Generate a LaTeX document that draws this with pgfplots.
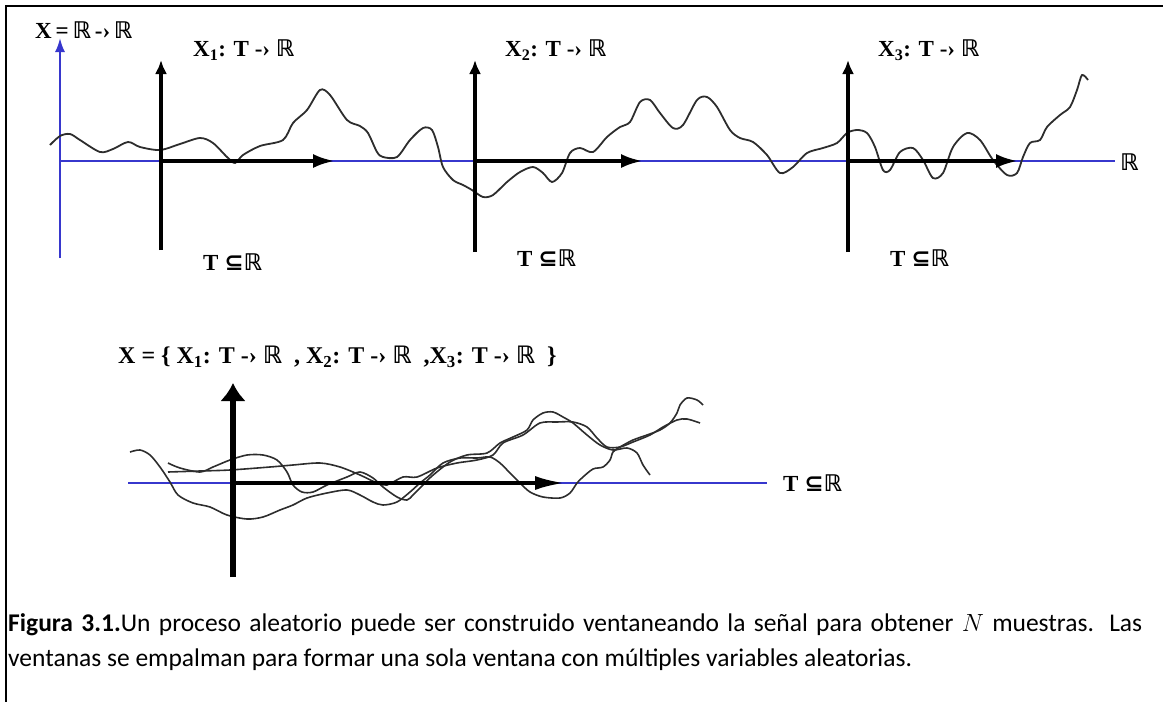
\documentclass[border=0pt]{standalone}
\usepackage{fontspec}
\setmainfont{Carlito}
\newfontfamily\tnr{Liberation Serif}
\newfontfamily\dvs{DejaVu Sans}
\usepackage{pgfplots}
\pgfplotsset{compat=1.18}
\usetikzlibrary{arrows.meta}

\definecolor{axblue}{RGB}{55,55,205}
\definecolor{wave}{RGB}{45,45,45}
\newcommand{\R}{{\dvs\bfseries ℝ}}
\newcommand{\sub}{{\dvs\bfseries ⊆}}
\newcommand{\lab}{\tnr\bfseries\fontsize{23}{23}\selectfont}

\begin{document}
\begin{tikzpicture}
\begin{axis}[
    width=1163pt, height=702pt, scale only axis,
    xmin=0, xmax=1163, ymin=0, ymax=702, y dir=reverse,
    hide axis, clip=false,
  ]
  % frame
  \addplot[black, line width=2pt] coordinates {(6,702) (6,6) (1163,6)};

  % blue reference axes
  \addplot[axblue, line width=2pt, -{Latex[length=14pt,width=10pt]}] coordinates {(60,258) (60,38)};
  \addplot[axblue, line width=2pt] coordinates {(60,161) (1115,161)};
  \addplot[axblue, line width=2pt] coordinates {(128,483) (767,483)};

  % top realisation
  \addplot[wave, line width=1.8pt, smooth] coordinates {
    (50,145) (60,136) (70,134) (80,140) (100,152) (113,149) (128,142) (140,147)
    (160,150) (180,144) (200,138) (213,143) (227,157) (235,163) (243,155) (260,146)
    (283,140) (293,123) (307,110) (320,90) (330,95) (347,120) (360,126) (368,133)
    (377,152) (383,157) (397,157) (410,140) (423,128) (432,130) (438,147) (443,167)
    (453,180) (463,185) (472,190) (483,197) (493,195) (507,182) (520,172) (533,167)
    (543,173) (552,182) (562,173) (570,153) (580,148) (593,152) (607,137) (620,127)
    (630,122) (640,102) (650,100) (660,113) (673,128) (683,125) (697,100) (707,97)
    (717,107) (730,130) (740,138) (753,142) (767,155) (780,173) (793,167) (807,153)
    (823,148) (837,143) (847,133) (857,130) (867,133) (875,147) (883,170) (890,170)
    (900,152) (913,148) (923,160) (933,178) (943,173) (953,147) (967,133) (980,140)
    (993,160) (1007,175) (1017,173) (1023,157) (1030,143) (1040,140) (1047,127)
    (1060,115) (1070,107) (1077,90) (1082,75) (1088,80)
  };

  % bottom: three windows superposed
  \addplot[wave, line width=1.6pt, smooth] coordinates {
    (130,452) (140,450) (150,455) (160,467) (170,482) (178,495) (193,503) (210,507)
    (227,515) (247,519) (263,517) (280,510) (293,505) (307,498) (327,493) (347,490)
    (360,495) (373,502) (383,505) (397,502) (410,492) (420,483) (430,475) (443,463)
    (460,458) (477,458) (490,457) (500,463) (510,473) (520,483) (530,492) (543,497)
    (560,498) (570,493) (577,483) (583,477) (593,469) (603,467) (610,460) (613,452)
    (620,447) (633,440) (647,435) (660,430) (670,423) (677,413) (680,405) (687,398)
    (697,400) (703,405)
  };
  \addplot[wave, line width=1.6pt, smooth] coordinates {
    (168,463) (180,468) (200,472) (213,467) (230,460) (247,455) (263,455) (277,460)
    (287,472) (293,485) (302,492) (313,492) (327,485) (347,477) (360,472) (373,478)
    (383,487) (397,497) (407,500) (413,495) (422,486) (432,476) (450,462) (467,455)
    (487,453) (500,443) (513,437) (527,430) (533,420) (543,413) (553,412) (563,417)
    (573,423) (587,435) (600,445) (613,450) (627,448) (637,453) (643,465) (650,475)
  };
  \addplot[wave, line width=1.6pt, smooth] coordinates {
    (168,472) (200,471) (230,470) (270,467) (293,465) (320,463) (340,467) (360,475)
    (377,483) (387,485) (403,477) (417,477) (437,468) (457,463) (477,460) (493,455)
    (503,443) (523,435) (540,423) (557,422) (573,422) (587,427) (597,438) (607,447)
    (620,447) (633,442) (650,435) (663,427) (677,420) (687,419) (700,423)
  };

  % black window axes (top)
  \addplot[black, line width=3.5pt, -{Latex[length=14pt,width=12pt]}] coordinates {(161,250) (161,60)};
  \addplot[black, line width=3.5pt, -{Latex[length=14pt,width=12pt]}] coordinates {(475,252) (475,60)};
  \addplot[black, line width=3.5pt, -{Latex[length=14pt,width=12pt]}] coordinates {(848,252) (848,60)};
  \addplot[black, line width=4pt, -{Latex[length=22pt,width=14pt]}] coordinates {(161,161) (335,161)};
  \addplot[black, line width=4pt, -{Latex[length=22pt,width=14pt]}] coordinates {(475,161) (643,161)};
  \addplot[black, line width=4pt, -{Latex[length=22pt,width=14pt]}] coordinates {(848,161) (1018,161)};

  % black axes (bottom)
  \addplot[black, line width=6pt, -{Latex[length=18pt,width=26pt]}] coordinates {(233,577) (233,383)};
  \addplot[black, line width=4pt, -{Latex[length=30pt,width=14pt]}] coordinates {(233,483) (565,483)};

  % labels
  \node[anchor=west, inner sep=0pt] at (35,30) {\lab X\,=\,\R\,-›\,\R};
  \node[anchor=west, inner sep=0pt] at (193,50) {\lab X\textsubscript{1}: T -› \R};
  \node[anchor=west, inner sep=0pt] at (505,50) {\lab X\textsubscript{2}: T -› \R};
  \node[anchor=west, inner sep=0pt] at (878,50) {\lab X\textsubscript{3}: T -› \R};
  \node[anchor=west, inner sep=0pt] at (203,262) {\lab T \sub\R};
  \node[anchor=west, inner sep=0pt] at (517,258) {\lab T \sub\R};
  \node[anchor=west, inner sep=0pt] at (890,258) {\lab T \sub\R};
  \node[anchor=west, inner sep=0pt] at (1120,162) {\lab \R};
  \node[anchor=west, inner sep=0pt] at (118,357)
    {\lab\fontsize{24}{24}\selectfont X = \{ X\textsubscript{1}: T -› \R\ \ , X\textsubscript{2}: T -› \R\ \ ,X\textsubscript{3}: T -› \R\ \ \}};
  \node[anchor=west, inner sep=0pt] at (783,483) {\lab T \sub\R};

  % caption
  \node[anchor=north west, inner sep=0pt, text width=1134pt, align=justify,
        font=\fontsize{25.5}{35}\selectfont] at (8,613)
    {\textbf{Figura 3.1.}Un proceso aleatorio puede ser construido ventaneando la señal para obtener $N$ muestras. Las\linebreak
     ventanas se empalman para formar una sola ventana con múltiples variables aleatorias.};
\end{axis}
\pgfresetboundingbox
\path (0,0) rectangle (1163pt,702pt);
\end{tikzpicture}
\end{document}
